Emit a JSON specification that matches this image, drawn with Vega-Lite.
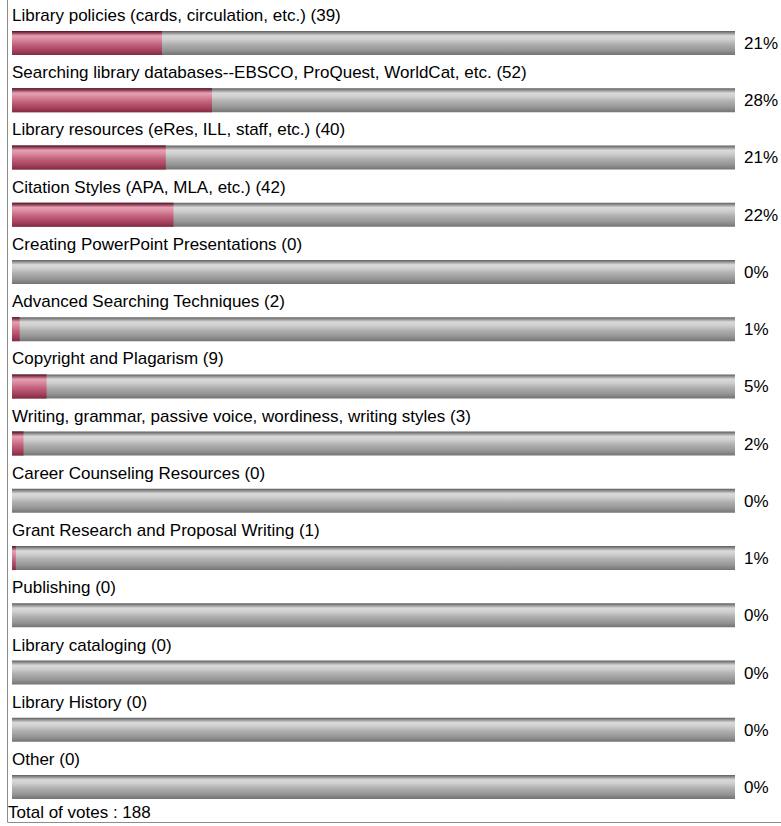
{
  "$schema": "https://vega.github.io/schema/vega-lite/v6.json",
  "width": 776,
  "height": 832,
  "autosize": {"type": "none"},
  "padding": {"left": 7, "top": -10, "right": -2, "bottom": 4},
  "background": "white",
  "config": {
    "view": {"stroke": "#8c8c8c", "strokeWidth": 1},
    "text": {"font": "Liberation Sans", "fontSize": 17, "color": "#000000"}
  },
  "data": {
    "values": [
      {"item": "Library policies (cards, circulation, etc.) (39)", "count": 39, "pct": "21%"},
      {"item": "Searching library databases--EBSCO, ProQuest, WorldCat, etc. (52)", "count": 52, "pct": "28%"},
      {"item": "Library resources (eRes, ILL, staff, etc.) (40)", "count": 40, "pct": "21%"},
      {"item": "Citation Styles (APA, MLA, etc.) (42)", "count": 42, "pct": "22%"},
      {"item": "Creating PowerPoint Presentations (0)", "count": 0, "pct": "0%"},
      {"item": "Advanced Searching Techniques (2)", "count": 2, "pct": "1%"},
      {"item": "Copyright and Plagarism (9)", "count": 9, "pct": "5%"},
      {"item": "Writing, grammar, passive voice, wordiness, writing styles (3)", "count": 3, "pct": "2%"},
      {"item": "Career Counseling Resources (0)", "count": 0, "pct": "0%"},
      {"item": "Grant Research and Proposal Writing (1)", "count": 1, "pct": "1%"},
      {"item": "Publishing (0)", "count": 0, "pct": "0%"},
      {"item": "Library cataloging (0)", "count": 0, "pct": "0%"},
      {"item": "Library History (0)", "count": 0, "pct": "0%"},
      {"item": "Other (0)", "count": 0, "pct": "0%", "note": "Total of votes : 188"}
    ]
  },
  "layer": [
    {
      "mark": {
        "type": "bar", "height": 24,
        "color": {"gradient": "linear", "x1": 0, "y1": 0, "x2": 0, "y2": 1,
          "stops": [
            {"offset": 0, "color": "#5e5e5e"},
            {"offset": 0.07, "color": "#888888"},
            {"offset": 0.2, "color": "#dadada"},
            {"offset": 0.35, "color": "#cfcfcf"},
            {"offset": 0.55, "color": "#b0b0b0"},
            {"offset": 0.8, "color": "#959595"},
            {"offset": 1, "color": "#737373"}
          ]}
      },
      "encoding": {
        "y": {
          "field": "item", "type": "nominal", "sort": null, "axis": null,
          "scale": {"range": [24.4, 825.6], "paddingInner": 0, "paddingOuter": 0}
        },
        "x": {"datum": 188, "type": "quantitative", "axis": null,
          "scale": {"domain": [0, 188], "range": [5, 728], "nice": false, "zero": true}}
      }
    },
    {
      "mark": {
        "type": "bar", "height": 24,
        "color": {"gradient": "linear", "x1": 0, "y1": 0, "x2": 0, "y2": 1,
          "stops": [
            {"offset": 0, "color": "#4e1020"},
            {"offset": 0.07, "color": "#8a3850"},
            {"offset": 0.2, "color": "#e6a0b2"},
            {"offset": 0.35, "color": "#da8aa0"},
            {"offset": 0.55, "color": "#c4647e"},
            {"offset": 0.8, "color": "#a8435e"},
            {"offset": 1, "color": "#842a42"}
          ]}
      },
      "encoding": {
        "y": {"field": "item", "type": "nominal", "sort": null, "axis": null},
        "x": {"field": "count", "type": "quantitative"}
      }
    },
    {
      "mark": {"type": "text", "align": "left", "baseline": "alphabetic", "dy": -22},
      "encoding": {
        "y": {"field": "item", "type": "nominal", "sort": null, "axis": null},
        "x": {"datum": 0, "type": "quantitative"},
        "text": {"field": "item"}
      }
    },
    {
      "mark": {"type": "text", "align": "left", "baseline": "middle", "dx": 9, "dy": 1},
      "encoding": {
        "y": {"field": "item", "type": "nominal", "sort": null, "axis": null},
        "x": {"datum": 188, "type": "quantitative"},
        "text": {"field": "pct"}
      }
    },
    {
      "transform": [{"filter": "isValid(datum.note)"}],
      "mark": {"type": "text", "align": "left", "baseline": "alphabetic", "dx": -4, "dy": 31},
      "encoding": {
        "y": {"field": "item", "type": "nominal", "sort": null, "axis": null},
        "x": {"datum": 0, "type": "quantitative"},
        "text": {"field": "note"}
      }
    }
  ]
}
